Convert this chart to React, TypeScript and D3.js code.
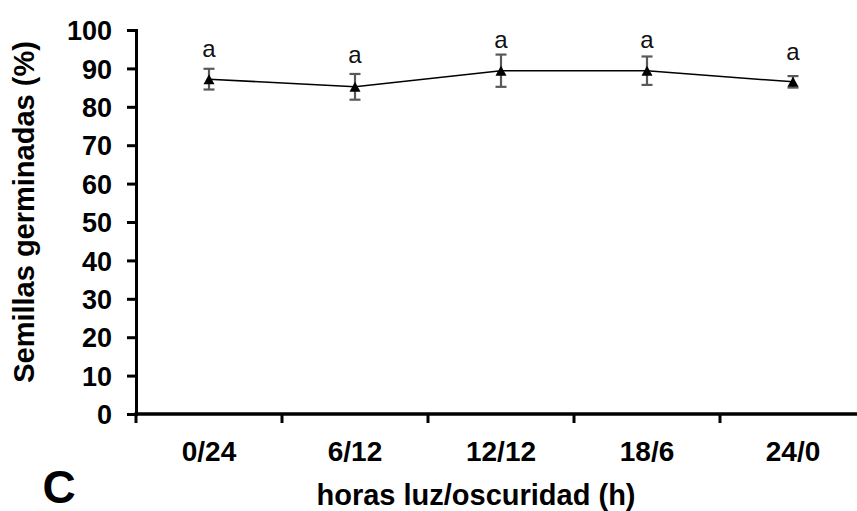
import React, { useEffect, useRef } from "react";
import * as d3 from "d3";

// photoperiod treatments (light/dark hours)
const categories = ["0/24", "6/12", "12/12", "18/6", "24/0"];
// germinated seeds (%) and error bar half-widths
const meanValues = [87.2, 85.2, 89.4, 89.4, 86.5];
const errorValues = [2.7, 3.35, 4.2, 3.7, 1.5];
// significance letters and where they sit (in % units)
const letters = ["a", "a", "a", "a", "a"];
const letterPos = [93.0, 91.3, 95.2, 95.2, 92.2];
const yTicks = [0, 10, 20, 30, 40, 50, 60, 70, 80, 90, 100];

const W = 857;
const H = 511;
const FONT = "'Liberation Sans', Arial, sans-serif";

const App = () => {
  const svgRef = useRef<SVGSVGElement>(null);

  useEffect(() => {
    const svg = d3.select(svgRef.current);
    svg.selectAll("*").remove();

    const left = 136;
    const right = 866;
    const y = d3.scaleLinear().domain([0, 100]).range([414, 30]);
    const x = d3.scaleBand<string>().domain(categories).range([left, right]).padding(0);
    const cx = (c: string) => (x(c) as number) + x.bandwidth() / 2;

    // y axis
    const yAxis = svg
      .append("g")
      .attr("transform", `translate(${left},0)`)
      .call(d3.axisLeft(y).tickValues(yTicks).tickSize(9).tickSizeOuter(9).tickPadding(15));
    yAxis.select(".domain").attr("stroke", "#000").attr("stroke-width", 3);
    yAxis.selectAll(".tick line").attr("stroke", "#000").attr("stroke-width", 3);
    yAxis
      .selectAll(".tick text")
      .attr("fill", "#000")
      .attr("dy", "0.36em")
      .style("font-family", FONT)
      .style("font-size", "27px")
      .style("font-weight", "bold");

    // x axis line, ticks at band edges
    const edges = categories.map(c => x(c) as number).concat([right]);
    svg
      .append("line")
      .attr("x1", left - 1.5)
      .attr("x2", right)
      .attr("y1", y(0))
      .attr("y2", y(0))
      .attr("stroke", "#000")
      .attr("stroke-width", 3.5);
    svg
      .selectAll("line.xtick")
      .data(edges)
      .enter()
      .append("line")
      .attr("class", "xtick")
      .attr("x1", d => d)
      .attr("x2", d => d)
      .attr("y1", y(0))
      .attr("y2", y(0) + 9)
      .attr("stroke", "#000")
      .attr("stroke-width", 3);
    svg
      .selectAll("text.xlab")
      .data(categories)
      .enter()
      .append("text")
      .attr("class", "xlab")
      .attr("x", d => cx(d))
      .attr("y", 461)
      .attr("text-anchor", "middle")
      .style("font-family", FONT)
      .style("font-size", "28px")
      .style("font-weight", "bold")
      .text(d => d);

    // axis titles
    svg
      .append("text")
      .attr("x", 476)
      .attr("y", 505)
      .attr("text-anchor", "middle")
      .style("font-family", FONT)
      .style("font-size", "29px")
      .style("font-weight", "bold")
      .text("horas luz/oscuridad (h)");
    svg
      .append("text")
      .attr("transform", "translate(34,212) rotate(-90)")
      .attr("text-anchor", "middle")
      .style("font-family", FONT)
      .style("font-size", "29px")
      .style("font-weight", "bold")
      .text("Semillas germinadas (%)");
    svg
      .append("text")
      .attr("x", 59)
      .attr("y", 503)
      .attr("text-anchor", "middle")
      .style("font-family", FONT)
      .style("font-size", "46px")
      .style("font-weight", "bold")
      .text("C");

    const data = categories.map((c, i) => ({
      c,
      v: meanValues[i],
      e: errorValues[i],
      l: letters[i],
      lp: letterPos[i],
    }));

    // connecting line
    svg
      .append("path")
      .datum(data)
      .attr("fill", "none")
      .attr("stroke", "#000")
      .attr("stroke-width", 1.5)
      .attr("d", d3.line<any>().x(d => cx(d.c)).y(d => y(d.v)));

    // error bars
    const eb = svg.append("g").attr("stroke", "#595959").attr("stroke-width", 2.2);
    data.forEach(d => {
      const px = cx(d.c);
      eb.append("line").attr("x1", px).attr("x2", px).attr("y1", y(d.v + d.e)).attr("y2", y(d.v - d.e));
      eb.append("line").attr("x1", px - 5.5).attr("x2", px + 5.5).attr("y1", y(d.v + d.e)).attr("y2", y(d.v + d.e));
      eb.append("line").attr("x1", px - 5.5).attr("x2", px + 5.5).attr("y1", y(d.v - d.e)).attr("y2", y(d.v - d.e));
    });

    // triangle markers
    svg
      .selectAll("path.marker")
      .data(data)
      .enter()
      .append("path")
      .attr("class", "marker")
      .attr("transform", d => `translate(${cx(d.c)},${y(d.v)})`)
      .attr("d", "M0,-5 L5.5,5 L-5.5,5 Z")
      .attr("fill", "#000");

    // letters
    svg
      .selectAll("text.letter")
      .data(data)
      .enter()
      .append("text")
      .attr("class", "letter")
      .attr("x", d => cx(d.c))
      .attr("y", d => y(d.lp))
      .attr("text-anchor", "middle")
      .style("font-family", FONT)
      .style("font-size", "24px")
      .attr("fill", "#111")
      .text(d => d.l);
  }, []);

  return (
    <svg
      ref={svgRef}
      width={W}
      height={H}
      style={{ position: "absolute", left: 0, top: 0, background: "#fff" }}
    />
  );
};

export default App;
